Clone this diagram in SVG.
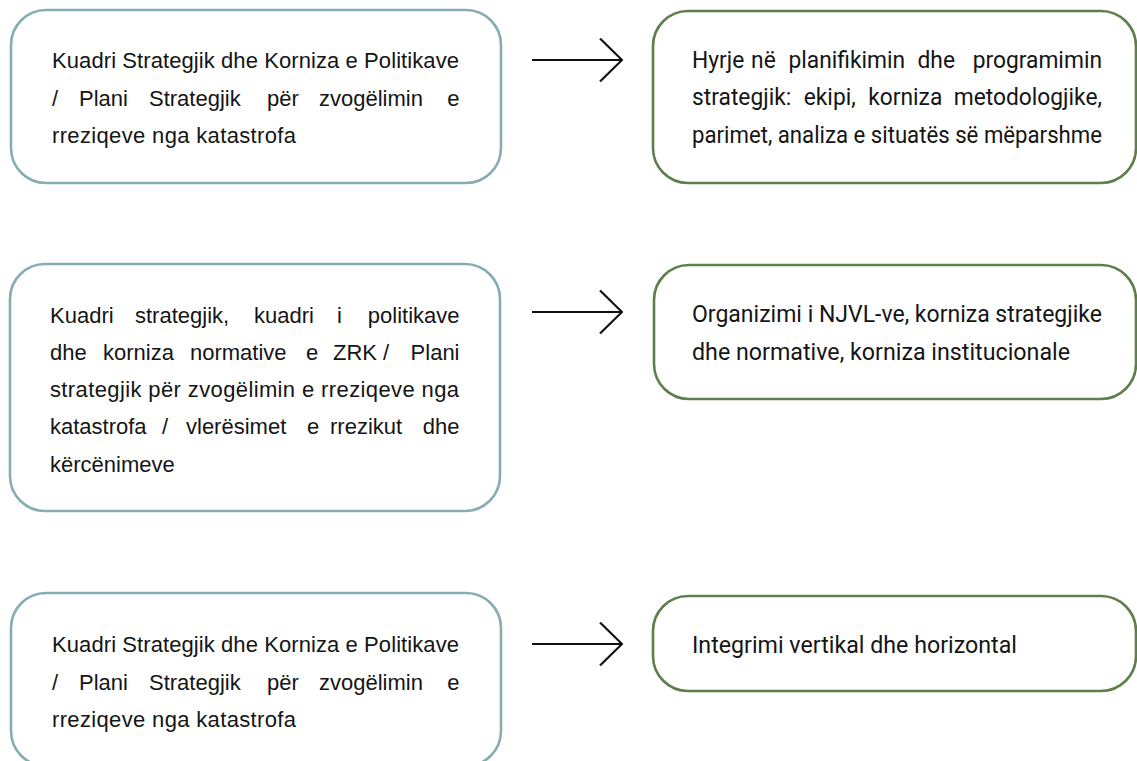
<svg xmlns="http://www.w3.org/2000/svg" width="1137" height="761" viewBox="0 0 1137 761">
<defs>
<style>
.lbox{fill:#fff;stroke:#86adb2;stroke-width:2.6}
.rbox{fill:#fff;stroke:#5e7f4b;stroke-width:2.6}
.lt{font-family:"Liberation Sans",Arial,sans-serif;font-size:22px;fill:#151515}
.rt{font-family:Roboto,"Liberation Sans",sans-serif;font-size:24px;fill:#151515}
.e{text-anchor:end}
.conn{stroke:#111;stroke-width:2.2;fill:none}
</style>
<marker id="arr" viewBox="0 0 24 46" refX="23" refY="22.5" markerWidth="24" markerHeight="46" markerUnits="userSpaceOnUse" orient="auto">
<path d="M1,1 L23,22.5 L1,44" fill="none" stroke="#111" stroke-width="2.2"/>
</marker>
</defs>
<rect width="1137" height="761" fill="#fff"/>

<g id="connectors">
<line class="conn" x1="532" y1="60" x2="622" y2="60" marker-end="url(#arr)"/>
<line class="conn" x1="532" y1="312" x2="622" y2="312" marker-end="url(#arr)"/>
<line class="conn" x1="532" y1="644" x2="622" y2="644" marker-end="url(#arr)"/>
</g>

<g id="node-l1">
<rect class="lbox" x="11" y="10" width="490" height="173" rx="35"/>
<text class="lt" x="52" y="68" textLength="407" lengthAdjust="spacing">Kuadri Strategjik dhe Korniza e Politikave</text>
<text class="lt" y="105.5"><tspan x="52">/</tspan><tspan x="79">Plani</tspan><tspan x="149">Strategjik</tspan><tspan x="267">për</tspan><tspan x="319">zvogëlimin</tspan></text>
<text class="lt e" x="459.5" y="105.5">e</text>
<text class="lt" x="52" y="143" textLength="244" lengthAdjust="spacing">rreziqeve nga katastrofa</text>
</g>

<g id="node-r1">
<rect class="rbox" x="653" y="11" width="483" height="172" rx="35"/>
<g transform="translate(692 0) scale(0.95 1)">
<text class="rt" y="68"><tspan x="0">Hyrje</tspan><tspan x="62.2">në</tspan><tspan x="101.5">planifikimin</tspan><tspan x="237.4">dhe</tspan></text>
<text class="rt e" x="431.6" y="68">programimin</text>
<text class="rt" y="105.5"><tspan x="0">strategjik:</tspan><tspan x="117.6">ekipi,</tspan><tspan x="185.5">korniza</tspan></text>
<text class="rt e" x="431.6" y="105.5">metodologjike,</text>
<text class="rt" x="0" y="143" textLength="431.6" lengthAdjust="spacingAndGlyphs">parimet, analiza e situatës së mëparshme</text>
</g>
</g>

<g id="node-l2">
<rect class="lbox" x="10" y="264" width="490" height="247" rx="35"/>
<text class="lt" y="322.5"><tspan x="50">Kuadri</tspan><tspan x="135">strategjik,</tspan><tspan x="254">kuadri</tspan><tspan x="337">i</tspan></text>
<text class="lt e" x="459.5" y="322.5">politikave</text>
<text class="lt" y="360"><tspan x="50">dhe</tspan><tspan x="103">korniza</tspan><tspan x="190">normative</tspan><tspan x="306">e</tspan><tspan x="333">ZRK</tspan><tspan x="383">/</tspan></text>
<text class="lt e" x="459.5" y="360">Plani</text>
<text class="lt" x="50" y="397" textLength="409" lengthAdjust="spacing">strategjik për zvogëlimin e rreziqeve nga</text>
<text class="lt" y="434"><tspan x="50">katastrofa</tspan><tspan x="162">/</tspan><tspan x="186">vlerësimet</tspan><tspan x="307">e</tspan><tspan x="330">rrezikut</tspan></text>
<text class="lt e" x="459.5" y="434">dhe</text>
<text class="lt" x="50" y="471.5">kërcënimeve</text>
</g>

<g id="node-r2">
<rect class="rbox" x="654" y="265" width="482" height="134" rx="35"/>
<g transform="translate(692 0) scale(0.95 1)">
<text class="rt" x="0" y="322.5" textLength="431.6" lengthAdjust="spacingAndGlyphs">Organizimi i NJVL-ve, korniza strategjike</text>
<text class="rt" x="0" y="360" textLength="397.9" lengthAdjust="spacingAndGlyphs">dhe normative, korniza institucionale</text>
</g>
</g>

<g id="node-l3">
<rect class="lbox" x="11" y="593" width="490" height="173" rx="35"/>
<text class="lt" x="52" y="652" textLength="407" lengthAdjust="spacing">Kuadri Strategjik dhe Korniza e Politikave</text>
<text class="lt" y="689.5"><tspan x="52">/</tspan><tspan x="79">Plani</tspan><tspan x="149">Strategjik</tspan><tspan x="267">për</tspan><tspan x="319">zvogëlimin</tspan></text>
<text class="lt e" x="459.5" y="689.5">e</text>
<text class="lt" x="52" y="727" textLength="244" lengthAdjust="spacing">rreziqeve nga katastrofa</text>
</g>

<g id="node-r3">
<rect class="rbox" x="653" y="596" width="483" height="95" rx="35"/>
<g transform="translate(692 0) scale(0.95 1)">
<text class="rt" x="0" y="653" textLength="342.1" lengthAdjust="spacingAndGlyphs">Integrimi vertikal dhe horizontal</text>
</g>
</g>
</svg>
